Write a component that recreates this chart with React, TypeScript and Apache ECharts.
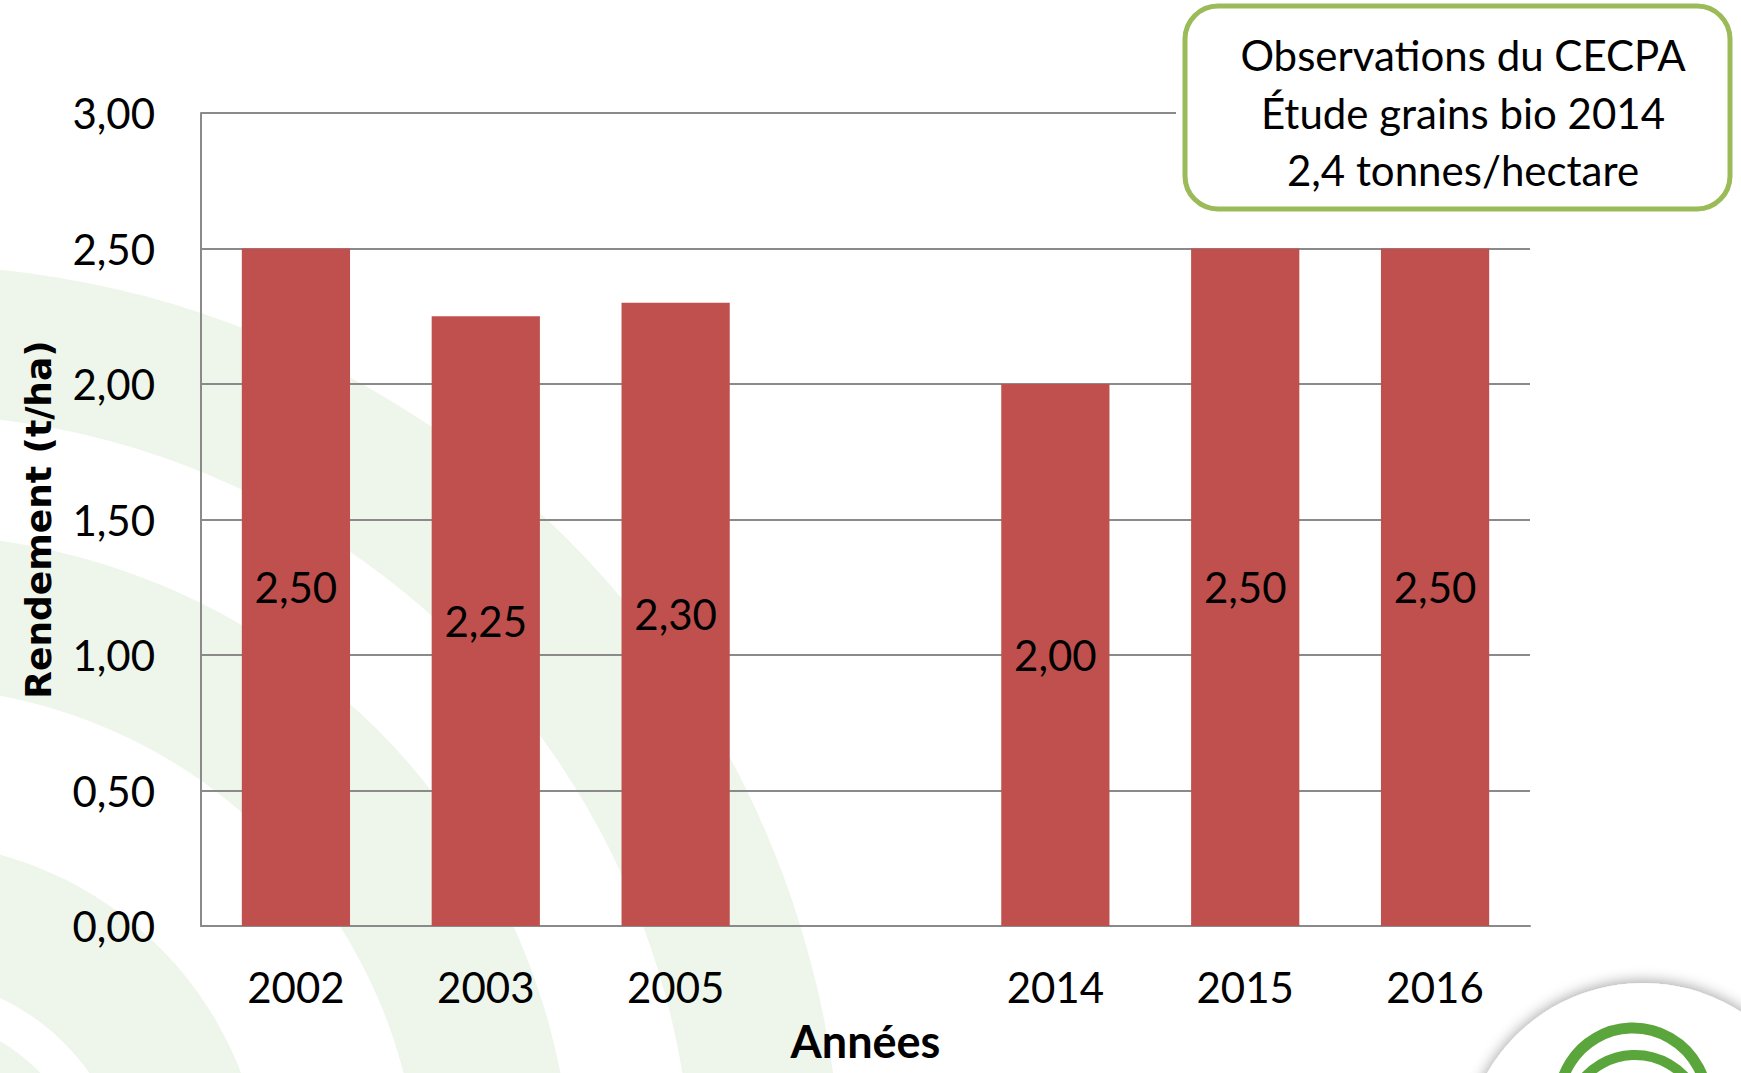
import React, { useEffect, useRef } from "react";
import * as echarts from "echarts";

const categories = ["2002", "2003", "2005", "", "2014", "2015", "2016"];
const yields = [2.5, 2.25, 2.3, null, 2.0, 2.5, 2.5];
const yMin = 0;
const yMax = 3;
const yStep = 0.5;
const yAxisTitle = "Rendement (t/ha)";
const xAxisTitle = "Années";
const noteLines = ["Observations du CECPA", "Étude grains bio 2014", "2,4 tonnes/hectare"];

const fmt = (v: number) => v.toFixed(2).replace(".", ",");

const W = 1741;
const H = 1073;
const BG_GREEN = "#eef6eb";

export default function App() {
  const ref = useRef<HTMLDivElement>(null);
  useEffect(() => {
    document.body.style.margin = "0";
    if (!ref.current) return;
    const chart = echarts.init(ref.current, null, { renderer: "svg", width: W, height: H });

    const bgCx = -95;
    const bgCy = 1202;
    const bgRadii = [937, 788, 668, 515, 360, 225, 187];

    const graphics: any[] = [];
    bgRadii.forEach((r, i) => {
      graphics.push({
        type: "circle",
        z: -10,
        silent: true,
        shape: { cx: bgCx, cy: bgCy, r },
        style: { fill: i % 2 === 0 ? BG_GREEN : "#ffffff" },
      });
    });
    // note box
    graphics.push({
      type: "rect",
      z: 50,
      shape: { x: 1176, y: 0, width: 565, height: 216 },
      style: { fill: "#ffffff" },
    });
    graphics.push({
      type: "rect",
      z: 51,
      shape: { x: 1185, y: 6, width: 545, height: 203, r: 33 },
      style: { fill: "#ffffff", stroke: "#9bbb59", lineWidth: 5 },
    });
    const lineYs = [55, 113, 170];
    noteLines.forEach((t, i) => {
      graphics.push({
        type: "text",
        z: 52,
        x: 1463,
        y: lineYs[i],
        style: {
          text: t,
          font: "42px Lato",
          fill: "#000000",
          align: "center",
          verticalAlign: "middle",
        },
      });
    });
    // logo bottom right
    graphics.push({
      type: "circle",
      z: 60,
      shape: { cx: 1643, cy: 1163, r: 180 },
      style: {
        fill: "#ffffff",
        shadowBlur: 14,
        shadowColor: "rgba(0,0,0,0.35)",
        shadowOffsetY: -2,
      },
    });
    graphics.push({
      type: "circle",
      z: 61,
      shape: { cx: 1633, cy: 1102, r: 74 },
      style: { fill: "none", stroke: "#5ba63c", lineWidth: 11 },
    });
    graphics.push({
      type: "circle",
      z: 61,
      shape: { cx: 1635, cy: 1123, r: 68 },
      style: { fill: "none", stroke: "#5ba63c", lineWidth: 10 },
    });

    chart.setOption({
      animation: false,
      backgroundColor: "#ffffff",
      grid: {
        left: 201,
        top: 113,
        right: W - 1530,
        bottom: H - 926,
        containLabel: false,
        outerBoundsMode: "none",
      },
      xAxis: {
        type: "category",
        data: categories,
        axisLine: { show: true, lineStyle: { color: "#8a8a8a", width: 2 } },
        axisTick: { show: false },
        axisLabel: { margin: 40, color: "#000", fontFamily: "Lato", fontSize: 42 },
        name: xAxisTitle,
        nameLocation: "middle",
        nameGap: 92,
        nameTextStyle: {
          color: "#000",
          fontFamily: "Lato",
          fontWeight: "bold",
          fontSize: 45,
        },
      },
      yAxis: {
        type: "value",
        min: yMin,
        max: yMax,
        interval: yStep,
        axisLine: { show: true, lineStyle: { color: "#8a8a8a", width: 2 } },
        axisTick: { show: false },
        splitLine: { show: true, lineStyle: { color: "#8a8a8a", width: 2 } },
        axisLabel: {
          margin: 46,
          color: "#000",
          fontFamily: "Lato",
          fontSize: 42,
          formatter: (v: number) => fmt(v),
        },
        name: yAxisTitle,
        nameLocation: "middle",
        nameRotate: 90,
        nameGap: 145,
        nameTextStyle: { color: "#000", fontFamily: "DejaVu Sans", fontWeight: "bold", fontSize: 36 },
      },
      series: [
        {
          type: "bar",
          data: yields,
          barCategoryGap: "43%",
          itemStyle: { color: "#c0504d" },
          label: {
            show: true,
            position: "inside",
            color: "#000",
            fontFamily: "Lato",
            fontSize: 42,
            formatter: (p: any) => fmt(p.value),
          },
        },
      ],
      graphic: graphics,
    });
    return () => chart.dispose();
  }, []);
  return (
    <div
      ref={ref}
      style={{ position: "fixed", left: 0, top: 0, width: W, height: H }}
    />
  );
}
